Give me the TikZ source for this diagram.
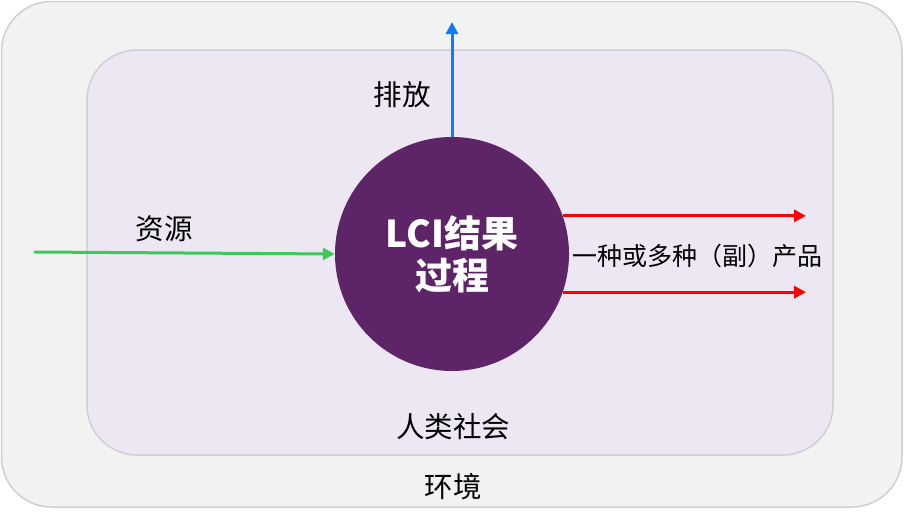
\documentclass[tikz,border=0pt]{standalone}
\usepackage{fontspec}
\setmainfont{Noto Sans CJK SC}
\usetikzlibrary{arrows.meta}
\definecolor{envfill}{HTML}{F2F2F2}
\definecolor{envline}{HTML}{D0CED4}
\definecolor{socfill}{HTML}{EDE7F3}
\definecolor{procfill}{HTML}{5E2468}
\definecolor{emblue}{HTML}{0A7CFF}
\definecolor{resgreen}{HTML}{3CC85A}
\definecolor{prodred}{HTML}{FF0000}
\tikzset{
  boxstyle/.style={draw=envline, line width=1.5pt, rounded corners=50pt},
  flow/.style={line width=3pt, -{Triangle[length=12pt,width=12pt]}},
  lbl/.style={inner sep=0pt, font=\fontsize{28.5}{32}\selectfont, text=black},
}
\begin{document}
\begin{tikzpicture}[x=1pt,y=-1pt]
\useasboundingbox (0,0) rectangle (905,522);
\draw[boxstyle, fill=envfill] (1.5,1.5) rectangle (902,507);
\draw[boxstyle, fill=socfill] (87,50) rectangle (833,455);
\node[circle, fill=procfill, minimum size=234pt, inner sep=0pt, align=center,
  text=white, font=\fontsize{37}{42}\selectfont\bfseries] (proc) at (452,254) {LCI结果\\过程};
\coordinate (emtop) at (452,22);
\coordinate (resstart) at (35,252);
\coordinate (prodend1) at (806,216);
\coordinate (prodend2) at (806,293);
\draw[flow, emblue] (proc.north) -- (emtop);
\draw[flow, resgreen, line cap=round] (resstart) -- (proc.west);
\draw[flow, prodred] (proc.19) -- (proc.19 -| prodend1);
\draw[flow, prodred] (proc.-19) -- (proc.-19 -| prodend2);
\node[lbl] (emis) at (402,95) {排放};
\node[lbl] (res) at (164,229) {资源};
\node[lbl, anchor=west, font=\fontsize{25}{30}\selectfont] (prod) at (572,256) {一种或多种（副）产品};
\node[lbl] (soc) at (453,427) {人类社会};
\node[lbl] (env) at (453,487) {环境};
\end{tikzpicture}
\end{document}
